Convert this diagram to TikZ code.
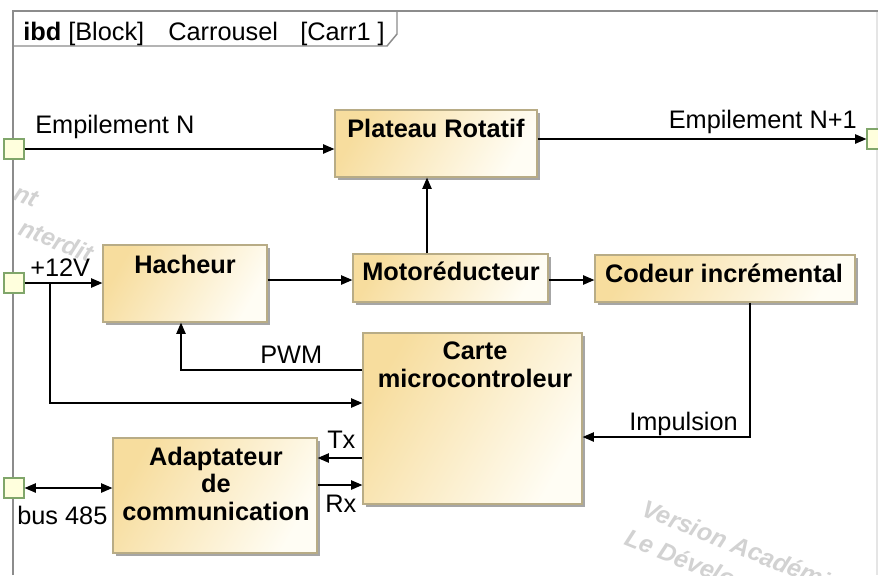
\documentclass[tikz,border=0pt]{standalone}
\usepackage{fontspec}
\setmainfont{Liberation Sans}
\usetikzlibrary{arrows.meta,shadows}
\definecolor{boxA}{RGB}{247,221,158}
\definecolor{boxB}{RGB}{255,253,244}
\definecolor{boxline}{RGB}{184,172,134}
\definecolor{portfill}{RGB}{255,255,221}
\definecolor{portline}{RGB}{128,166,106}
\definecolor{framecol}{RGB}{140,140,140}
\definecolor{wmark}{RGB}{210,210,210}
\begin{document}
\begin{tikzpicture}[x=0.75pt,y=-0.75pt,
  blk/.style={draw=boxline, line width=0.9pt, top color=boxA, bottom color=boxB, shading angle=60,
    general shadow={fill=black!35, shadow xshift=2.25pt, shadow yshift=-2.25pt}, inner sep=0pt},
  port/.style={draw=portline, fill=portfill, line width=0.8pt, minimum size=15pt, inner sep=0pt},
  btxt/.style={font=\bfseries\fontsize{19}{23}\selectfont, inner sep=0pt, anchor=base},
  lbl/.style={font=\fontsize{19}{23}\selectfont, inner sep=0pt},
  wm/.style={font=\bfseries\itshape\fontsize{18.5}{22}\selectfont, text=wmark, inner sep=0pt, rotate=-22},
  arr/.style={line width=1.1pt, -{Triangle[length=8.5pt,width=7pt]}},
  darr/.style={line width=1.1pt, {Triangle[length=8.5pt,width=7pt]}-{Triangle[length=8.5pt,width=7pt]}}]
\useasboundingbox (0,0) rectangle (878,575);
\fill[white] (0,0) rectangle (878,575);

% watermark
\begin{scope}
\clip (13,11) rectangle (878,575);
\node[wm, anchor=base east] (wm1) at (34,208) {nt};
\node[wm, anchor=base east] (wm2) at (89,263) {nterdit};
\node[wm, anchor=base west] (wm3) at (640,515) {Version Académique};
\node[wm, anchor=base west] (wm4) at (623,544) {Le Développement};
\end{scope}

% frame
\draw[gray!20, line width=0.8pt] (877,11) -- (877,575);
\draw[framecol, line width=1.1pt] (13,575) -- (13,11) -- (878,11);
\draw[framecol, line width=1.1pt] (13,46) -- (387,46) -- (397,34) -- (397,11);
\node[lbl, anchor=base west, font=\bfseries\fontsize{19}{23}\selectfont] (t1) at (23,40) {ibd};
\node[lbl, anchor=base west] (t2) at (68,40) {[Block]};
\node[lbl, anchor=base west] (t3) at (168,40) {Carrousel};
\node[lbl, anchor=base west] (t4) at (300,40) {[Carr1 ]};

% blocks
\node[blk, minimum width=151.5pt, minimum height=50.25pt] (plat) at (436,143.5) {};
\node[blk, minimum width=123pt, minimum height=57.75pt] (hach) at (185,283.5) {};
\node[blk, minimum width=146.25pt, minimum height=36pt] (motor) at (450.5,278) {};
\node[blk, minimum width=195pt, minimum height=35.25pt] (codeur) at (725,278.5) {};
\node[blk, minimum width=164.25pt, minimum height=128.25pt] (carte) at (472.5,418.5) {};
\node[blk, minimum width=153pt, minimum height=86.25pt] (adapt) at (215,495.5) {};

\node[btxt] (platT) at (436,137) {Plateau Rotatif};
\node[btxt] (hachT) at (185,273) {Hacheur};
\node[btxt] (motorT) at (451,280) {Motoréducteur};
\node[btxt] (codeurT) at (724,282) {Codeur incrémental};
\node[btxt] (carteT1) at (475,359) {Carte};
\node[btxt] (carteT2) at (475,387) {microcontroleur};
\node[btxt] (adaptT1) at (216,465) {Adaptateur};
\node[btxt] (adaptT2) at (216,492) {de};
\node[btxt] (adaptT3) at (216,520) {communication};

% ports
\node[port] (pN) at (14,149) {};
\node[port] (p12) at (14,283) {};
\node[port] (pbus) at (14,488) {};
\node[port] (pN1) at (877,139) {};

% helper coordinates
\coordinate (mx) at (427,0);
\coordinate (r280) at (0,280);
\coordinate (j12) at (50,283);
\coordinate (r403) at (0,403);
\coordinate (pw) at (181,370);
\coordinate (imp) at (750,437);
\coordinate (r458) at (0,458);
\coordinate (r485) at (0,485);

% connectors
\draw[arr] (pN.east) -- (pN.east -| plat.west);
\draw[arr] (plat.east |- pN1.west) -- (pN1.west);
\draw[arr] (mx |- motor.north) -- (mx |- plat.south);
\draw[arr] (p12.east) -- (p12.east -| hach.west);
\draw[arr] (j12) |- (carte.west |- r403);
\draw[arr] (hach.east |- r280) -- (motor.west |- r280);
\draw[arr] (motor.east |- r280) -- (codeur.west |- r280);
\draw[arr] (carte.west |- pw) -- (pw) -- (pw |- hach.south);
\draw[arr] (imp |- codeur.south) -- (imp) -- (imp -| carte.east);
\draw[arr] (carte.west |- r458) -- (adapt.east |- r458);
\draw[arr] (adapt.east |- r485) -- (carte.west |- r485);
\draw[darr] (pbus.east) -- (pbus.east -| adapt.west);

% labels
\node[lbl, anchor=base west] (lN) at (35,133) {Empilement N};
\node[lbl, anchor=base east] (lN1) at (857,128) {Empilement N+1};
\node[lbl, anchor=base west] (l12) at (30,276) {+12V};
\node[lbl, anchor=base west] (lpwm) at (260,363) {PWM};
\node[lbl, anchor=base east] (limp) at (738,430) {Impulsion};
\node[lbl, anchor=base west] (ltx) at (327,448) {Tx};
\node[lbl, anchor=base west] (lrx) at (325,512) {Rx};
\node[lbl, anchor=base west] (lbus) at (17,524) {bus 485};
\end{tikzpicture}
\end{document}
